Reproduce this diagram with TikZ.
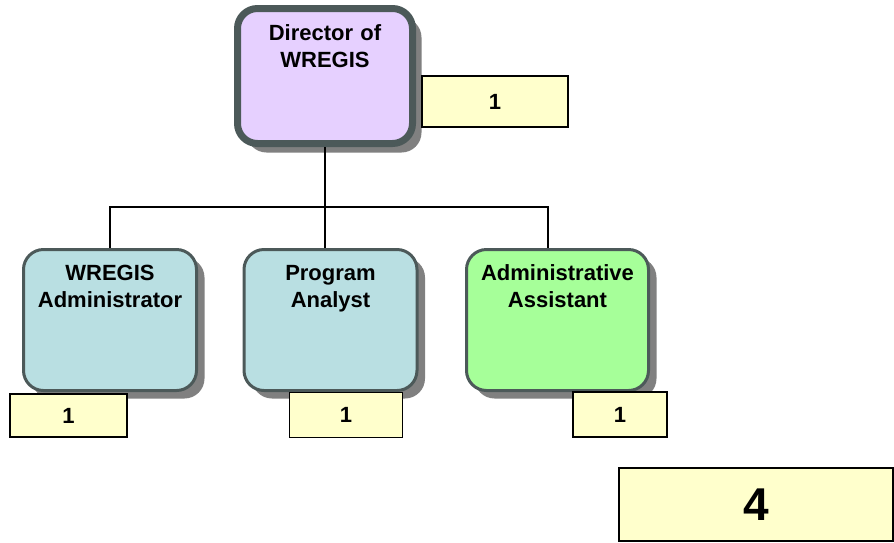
\documentclass[tikz,border=0pt]{standalone}
\usepackage{fontspec}
\setmainfont{Liberation Sans}
\usetikzlibrary{shadows}

\definecolor{lilac}{RGB}{230,208,255}
\definecolor{paleblue}{RGB}{185,223,226}
\definecolor{assistgreen}{RGB}{166,255,153}
\definecolor{edgegray}{RGB}{76,89,89}
\definecolor{shadowgray}{RGB}{128,128,128}
\definecolor{countyellow}{RGB}{255,255,204}

\begin{document}
\begin{tikzpicture}[x=1pt, y=-1pt, font=\bfseries\fontsize{22}{27}\selectfont]
	% Define styles
	\tikzstyle{unit} = [rectangle, draw=edgegray, rounded corners=20pt, inner sep=0pt, text width=160pt, align=center]
	\tikzstyle{director} = [unit, line width=7pt, fill=lilac, minimum width=175pt, text height=32pt, text depth=103pt, drop shadow={shadow xshift=9pt, shadow yshift=-9pt, fill=shadowgray, opacity=1}]
	\tikzstyle{position} = [unit, line width=3pt, fill=paleblue, minimum width=173pt, text height=31pt, text depth=110pt, drop shadow={shadow xshift=8pt, shadow yshift=-8pt, fill=shadowgray, opacity=1}]
	\tikzstyle{headcount} = [rectangle, draw, line width=1.5pt, fill=countyellow, inner sep=0pt]
	
	\useasboundingbox (0,0) rectangle (894,542);
	
	% Nodes
	\node[director] (dir) at (325,76) {Director of\\WREGIS};
	\node[position] (admin) at (110,320) {WREGIS\\Administrator};
	\node[position] (analyst) at (330.5,320) {Program\\Analyst};
	\node[position, fill=assistgreen, minimum width=182pt] (assist) at (557.5,320) {Administrative\\Assistant};
	
	% Head counts
	\node[headcount, minimum width=146pt, minimum height=51pt] (dircount) at (495,101.5) {1};
	\node[headcount, minimum width=117pt, minimum height=43pt] (admincount) at (68.5,415.5) {1};
	\node[headcount, minimum width=113pt, minimum height=45pt] (analystcount) at (346,415) {1};
	\node[headcount, minimum width=94pt, minimum height=45pt] (assistcount) at (620,414.5) {1};
	\node[headcount, minimum width=274pt, minimum height=73pt, font=\bfseries\fontsize{46}{50}\selectfont] (total) at (756,504.5) {4};
	
	% Lines
	\coordinate (bus) at (325,207);
	\draw[line width=1.5pt] (dir) -- (bus);
	\draw[line width=1.5pt] (admin.north) |- (bus) -| ([xshift=-9.5pt]assist.north);
	\draw[line width=1.5pt] (bus) -- ([xshift=-5.5pt]analyst.north);
\end{tikzpicture}
\end{document}
